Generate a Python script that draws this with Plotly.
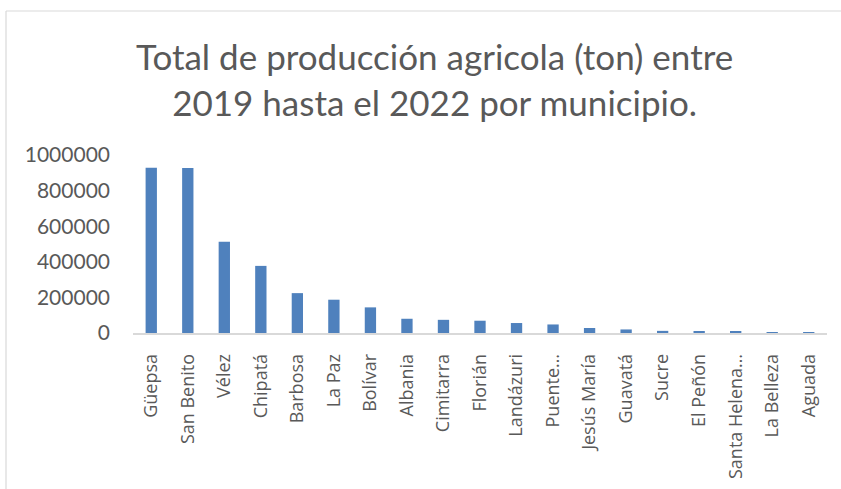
import plotly.graph_objects as go

municipios = ["Güepsa", "San Benito", "Vélez", "Chipatá", "Barbosa", "La Paz", "Bolívar",
              "Albania", "Cimitarra", "Florián", "Landázuri", "Puente…", "Jesús María",
              "Guavatá", "Sucre", "El Peñón", "Santa Helena…", "La Belleza", "Aguada"]
produccion = [929000, 927000, 513000, 377000, 224000, 187000, 144000,
              80000, 74000, 69000, 56000, 48000, 28000,
              20000, 12000, 7000, 6500, 5000, 1500]
y_ticks = [0, 200000, 400000, 600000, 800000, 1000000]

TXT = "#595959"
GRID = "#d9d9d9"

fig = go.Figure(go.Bar(
    x=municipios, y=produccion,
    marker=dict(color="#4f81bd", line=dict(width=0)),
))

W, H = 841, 489
L, R, T, B = 133, 14, 155, 156
pw = W - L - R
ph = H - T - B

def px_to_paper_x(px):
    return (px - L) / pw

def px_to_paper_y(py):
    return 1 + (T - py) / ph

fig.update_layout(
    width=W, height=H,
    margin=dict(l=L, r=R, t=T, b=B, pad=0, autoexpand=False),
    paper_bgcolor="white", plot_bgcolor="white",
    bargap=0.69,
    showlegend=False,
    font=dict(family="Lato", color=TXT),
    xaxis=dict(
        type="category", tickangle=-90, showgrid=False, zeroline=False,
        showline=True, linecolor=GRID, linewidth=1.5, ticks="", automargin=False,
        tickfont=dict(family="Open Sans", size=18, color=TXT),
        ticklabelstandoff=12,
    ),
    yaxis=dict(
        range=[0, 1000000], tickvals=y_ticks, ticktext=[str(v) for v in y_ticks],
        showgrid=False, zeroline=False, showline=False, ticks="", automargin=False,
        tickfont=dict(family="Lato", size=21, color=TXT),
        ticklabelstandoff=22,
    ),
    annotations=[dict(
        text="Total de producción agricola (ton) entre<br>2019 hasta el 2022 por municipio.",
        x=px_to_paper_x(434), y=px_to_paper_y(79), xref="paper", yref="paper",
        xanchor="center", yanchor="middle", showarrow=False,
        font=dict(family="Lato", size=35, color=TXT), align="center",
    )],
    shapes=[
        dict(type="line", xref="paper", yref="paper",
             x0=px_to_paper_x(6), x1=px_to_paper_x(900),
             y0=px_to_paper_y(11), y1=px_to_paper_y(11),
             line=dict(color=GRID, width=1.2)),
        dict(type="line", xref="paper", yref="paper",
             x0=px_to_paper_x(6), x1=px_to_paper_x(6),
             y0=px_to_paper_y(11), y1=px_to_paper_y(600),
             line=dict(color=GRID, width=1.2)),
    ],
)

fig.write_html("out.html", config={"displayModeBar": False},
               post_script="document.body.style.margin='0';document.body.style.overflow='hidden';")
